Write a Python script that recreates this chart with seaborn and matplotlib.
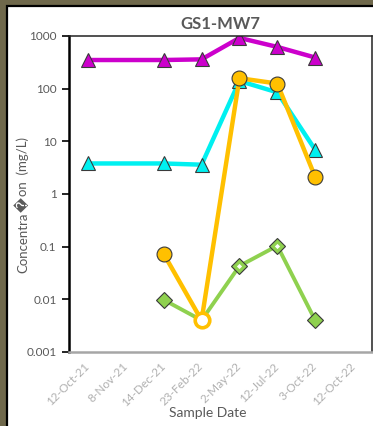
import matplotlib
matplotlib.use("Agg")
import matplotlib.pyplot as plt
from matplotlib.patches import Rectangle
from matplotlib.transforms import IdentityTransform
import numpy as np
import pandas as pd
import seaborn as sns

# Sample date labels on the category axis (in order)
dates = ["12-Oct-21", "8-Nov-21", "14-Dec-21", "23-Feb-22",
         "2-May-22", "12-Jul-22", "3-Oct-22", "12-Oct-22"]

# Concentrations (mg/L) per analyte, keyed by sample date
magenta_dates = ["12-Oct-21", "14-Dec-21", "23-Feb-22", "2-May-22", "12-Jul-22", "3-Oct-22"]
magenta_vals = [350, 350, 360, 920, 620, 390]

cyan_dates = ["12-Oct-21", "14-Dec-21", "23-Feb-22", "2-May-22", "12-Jul-22", "3-Oct-22"]
cyan_vals = [3.8, 3.8, 3.6, 140, 85, 6.9]

orange_dates = ["14-Dec-21", "23-Feb-22", "2-May-22", "12-Jul-22", "3-Oct-22"]
orange_vals = [0.073, 0.004, 158, 125, 2.1]
orange_nondetect = [False, True, False, False, False]

green_dates = ["14-Dec-21", "23-Feb-22", "2-May-22", "12-Jul-22", "3-Oct-22"]
green_vals = [0.0098, 0.004, 0.043, 0.104, 0.004]
green_open_centre = [False, False, True, True, False]

y_ticks = [0.001, 0.01, 0.1, 1, 10, 100, 1000]
y_tick_labels = ["0.001", "0.01", "0.1", "1", "10", "100", "1000"]

# Y-axis title, split where the unrenderable ligature sits
y_title_parts = ["Concentra", "\ufffd", "on  (mg/L)"]

sns.set_theme(style="white")
plt.rcParams["font.family"] = ["Lato", "DejaVu Sans"]

W, H = 373, 426
fig = plt.figure(figsize=(W / 100, H / 100), dpi=100)
fig.patch.set_facecolor("#6f684b")

# White chart panel with dark outline
fig.patches.append(Rectangle((7 / W, -0.05), 1.2, 1 - 6 / H + 0.05,
                             transform=fig.transFigure, facecolor="white",
                             edgecolor="black", linewidth=1.6, zorder=-10))

ax = fig.add_axes([69 / W, 1 - 352 / H, 303 / W, 316 / H])
ax.set_facecolor("white")


def frame(names, vals, **extra):
    df = pd.DataFrame({"date": names, "value": vals})
    df["pos"] = [dates.index(d) for d in names]
    for k, v in extra.items():
        df[k] = v
    return df


edge = "#3a3a3a"

cyan = frame(cyan_dates, cyan_vals)
sns.lineplot(data=cyan, x="pos", y="value", ax=ax, color="#00f0f0", lw=3.2,
             marker="^", markersize=10, markeredgecolor=edge, markeredgewidth=0.8,
             zorder=2)

green = frame(green_dates, green_vals, hollow=green_open_centre)
sns.lineplot(data=green, x="pos", y="value", ax=ax, color="#8fd14f", lw=2.8,
             marker="D", markersize=8.5, markeredgecolor=edge, markeredgewidth=0.8,
             zorder=3)
sub = green[green["hollow"]]
sns.scatterplot(data=sub, x="pos", y="value", ax=ax, color="white", s=7,
                marker="D", linewidth=0, zorder=3.5, legend=False)

orange = frame(orange_dates, orange_vals, nd=orange_nondetect)
sns.lineplot(data=orange, x="pos", y="value", ax=ax, color="#ffc000", lw=3.2,
             zorder=4)
det = orange[~orange["nd"]]
sns.scatterplot(data=det, x="pos", y="value", ax=ax, color="#ffc000", s=115,
                marker="o", edgecolor=edge, linewidth=0.8, zorder=4.5, legend=False)
nd = orange[orange["nd"]]
sns.scatterplot(data=nd, x="pos", y="value", ax=ax, color="white", s=110,
                marker="o", edgecolor="#ffc000", linewidth=2.6, zorder=4.6, legend=False)

mag = frame(magenta_dates, magenta_vals)
sns.lineplot(data=mag, x="pos", y="value", ax=ax, color="#cc00cc", lw=3.2,
             marker="^", markersize=10, markeredgecolor=edge, markeredgewidth=0.8,
             zorder=5)

ax.set_yscale("log")
ax.set_ylim(0.001, 1000)
ax.set_yticks(y_ticks)
ax.set_yticklabels(y_tick_labels)
ax.yaxis.set_minor_locator(matplotlib.ticker.NullLocator())
ax.set_xlim(-0.5, 7.5)
ax.set_xticks(range(len(dates)))
ax.set_xticklabels(dates, rotation=45, ha="right", va="center",
                   rotation_mode="anchor")
ax.set_ylabel("")

ax.tick_params(axis="y", which="major", direction="out", length=5, width=1.2,
               color="black", labelsize=8.5, labelcolor="#595959", pad=4, left=True)
ax.tick_params(axis="x", length=0, labelsize=8.5, labelcolor="#b0b0b0", pad=9)

for s in ["top", "right"]:
    ax.spines[s].set_color("#222222")
    ax.spines[s].set_linewidth(1.1)
ax.spines["left"].set_color("black")
ax.spines["left"].set_linewidth(1.8)
ax.spines["bottom"].set_color("#a6a6a6")
ax.spines["bottom"].set_linewidth(1.8)
for s in ax.spines.values():
    s.set_zorder(6)

ax.set_title("GS1-MW7", fontsize=12, fontweight="bold", color="#595959", pad=5)
ax.set_xlabel("Sample Date", fontsize=10, color="#595959")
ax.xaxis.set_label_coords((208 - 69) / 303, -(407 - 352) / 316)

# Vertical y-axis title laid out piece by piece in pixel space
base_x = 27
centre_y = H - 205
title_kw = dict(rotation=90, rotation_mode="anchor", color="#595959",
                transform=IdentityTransform())
pieces = []
for part in y_title_parts:
    if part == "\ufffd":
        t = fig.text(0, 0, part, ha="left", va="center", family="DejaVu Sans",
                     fontsize=10.5, **title_kw)
    else:
        t = fig.text(0, 0, part, ha="left", va="baseline", fontsize=9.5,
                     **title_kw)
    pieces.append(t)

renderer = fig.canvas.get_renderer()
lengths = [p.get_window_extent(renderer).height for p in pieces]
gap = 1.0
total = sum(lengths) + gap * (len(lengths) - 1)
y = centre_y - total / 2
for p, L in zip(pieces, lengths):
    if p.get_text() == "\ufffd":
        p.set_position((base_x - 3.5, y))
    else:
        p.set_position((base_x, y))
    y += L + gap

fig.savefig("out.png", dpi=100, facecolor=fig.get_facecolor())
